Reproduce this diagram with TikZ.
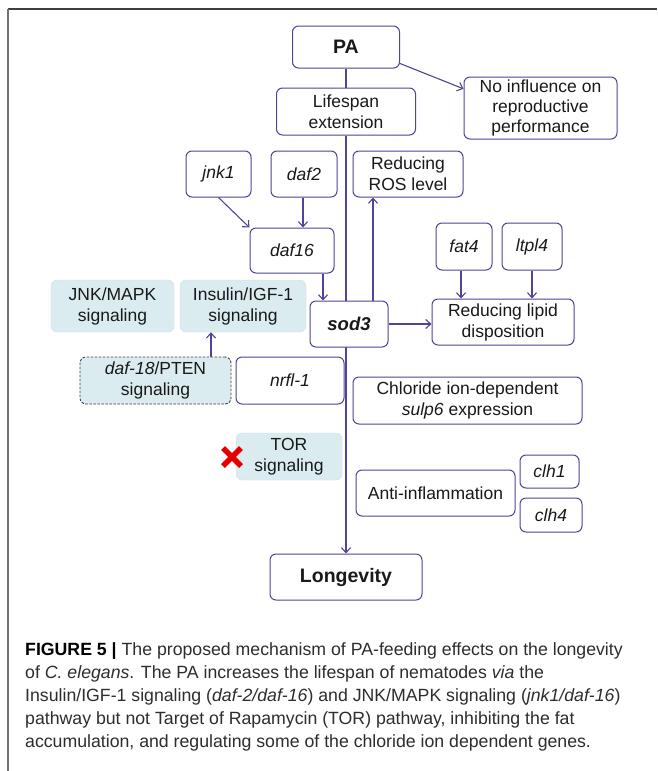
\documentclass[tikz,border=0pt]{standalone}
\usepackage{fontspec}
\setmainfont{Liberation Sans}
\usetikzlibrary{arrows.meta,calc}
\definecolor{bord}{RGB}{78,68,152}
\definecolor{lblue}{RGB}{218,236,240}
\definecolor{txt}{RGB}{25,25,25}
\definecolor{captxt}{RGB}{45,45,45}
\begin{document}
\begin{tikzpicture}[x=1pt,y=-1pt,
  box/.style={draw=bord, line width=1pt, rounded corners=6pt, fill=white, align=center,
    text=txt, inner sep=0pt, font=\fontsize{17.5}{21}\selectfont},
  sig/.style={draw=lblue!90!gray, line width=0.4pt, rounded corners=6pt, fill=lblue, align=center,
    text=txt, inner sep=0pt, font=\fontsize{17.5}{21}\selectfont},
  bigb/.style={font=\fontsize{19.5}{23}\selectfont\bfseries},
  ln/.style={draw=bord, line width=1.1pt},
  arr/.style={ln, -{Straight Barb[length=5pt,width=9pt]}},
  capline/.style={anchor=west, inner sep=0pt, text=captxt, font=\fontsize{17.7}{21}\selectfont}
]
\useasboundingbox (0,0) rectangle (657,771);
\fill[white] (0,0) rectangle (657,771);
% frame
\draw[black!75, line width=2pt] (8,9) -- (657,9);
\draw[black!55, line width=1.2pt] (8,9) -- (8,771);

% nodes
\node[box, bigb, minimum width=107pt, minimum height=42pt] (PA) at (346,47) {PA};
\node[box, minimum width=139pt, minimum height=47pt] (Life) at (346,111.5) {Lifespan\\extension};
\node[box, minimum width=153pt, minimum height=62pt, font=\fontsize{17.5}{20}\selectfont] (NoInf) at (540.5,108) {No influence on\\reproductive\\performance};
\node[box, minimum width=65pt, minimum height=46pt] (jnk1) at (218.5,174) {\itshape jnk1};
\node[box, minimum width=66pt, minimum height=46pt] (daf2) at (304,174) {\itshape daf2};
\node[box, minimum width=110pt, minimum height=46pt] (ROS) at (408,174) {Reducing\\ROS level};
\node[box, minimum width=84pt, minimum height=45pt] (daf16) at (292,250.5) {\itshape daf16};
\node[box, minimum width=56pt, minimum height=47pt] (fat4) at (464,246.5) {\itshape fat4};
\node[box, minimum width=60pt, minimum height=47pt] (ltpl4) at (532,246.5) {\itshape ltpl4};
\node[sig, minimum width=123pt, minimum height=52pt] (JNK) at (112.5,306) {JNK/MAPK\\signaling};
\node[sig, minimum width=126pt, minimum height=52pt] (Ins) at (243,306) {Insulin/IGF-1\\signaling};
\node[box, minimum width=142pt, minimum height=46pt] (lipid) at (503,322) {Reducing lipid\\disposition};
\node[sig, draw=black!75, dashed, dash pattern=on 2.5pt off 1.5pt, line width=0.9pt, minimum width=151pt, minimum height=47pt] (daf18) at (155.5,380.5) {\itshape daf-18\upshape/PTEN\\signaling};
\node[box, minimum width=108pt, minimum height=47pt] (nrfl) at (290,380.5) {\itshape nrfl-1};
\node[box, minimum width=229pt, minimum height=47pt] (chl) at (467.5,400.5) {Chloride ion-dependent\\\textit{sulp6} expression};
\node[sig, minimum width=106pt, minimum height=47pt] (TOR) at (289,456.5) {TOR\\signaling};
\node[box, minimum width=159pt, minimum height=46pt] (anti) at (435.5,493) {Anti-inflammation};
\node[box, minimum width=59pt, minimum height=33pt] (clh1) at (549.5,471.5) {\itshape clh1};
\node[box, minimum width=62pt, minimum height=34pt] (clh4) at (551,515) {\itshape clh4};
\node[box, bigb, minimum width=152pt, minimum height=46pt] (Long) at (346,577) {Longevity};

% main axis
\draw[ln] (PA.south) -- (PA.south |- Life.north);
\draw[arr] (Life.south) -- (Life.south |- Long.north);

\node[box, minimum width=78pt, minimum height=46pt, font=\fontsize{18.5}{22}\selectfont\bfseries\itshape] (sod3) at (349,324) {sod3};

% connectors
\coordinate (xd2) at (303,0);
\coordinate (xd16) at (323,0);
\coordinate (xros) at (373,0);
\coordinate (xfat) at (461,0);
\coordinate (xltp) at (532,0);
\coordinate (xd18) at (211,0);
\draw[arr] (PA.-17) -- (NoInf.166);
\draw[arr] (jnk1.south) -- (daf16.north west);
\draw[arr] (daf2.south -| xd2) -- (daf16.north -| xd2);
\draw[arr] (daf16.south -| xd16) -- (sod3.north -| xd16);
\draw[arr] (sod3.north -| xros) -- (ROS.south -| xros);
\draw[arr] (sod3.east) -- (sod3.east -| lipid.west);
\draw[arr] (fat4.south -| xfat) -- (lipid.north -| xfat);
\draw[arr] (ltpl4.south -| xltp) -- (lipid.north -| xltp);
\draw[arr] (daf18.north -| xd18) -- (Ins.south -| xd18);

% red cross
\draw[red!90!black, line width=5.5pt] (223,448) -- (241,466) (223,466) -- (241,448);

% caption
\node[capline] (c1) at (25,651) {\textbf{\color{black}FIGURE 5 |} The proposed mechanism of PA-feeding effects on the longevity};
\node[capline] (c2) at (25,674) {of \textit{C. elegans}. The PA increases the lifespan of nematodes \textit{via} the};
\node[capline] (c3) at (25,697) {Insulin/IGF-1 signaling (\textit{daf-2/daf-16}) and JNK/MAPK signaling (\textit{jnk1/daf-16})};
\node[capline] (c4) at (25,720) {pathway but not Target of Rapamycin (TOR) pathway, inhibiting the fat};
\node[capline] (c5) at (25,743) {accumulation, and regulating some of the chloride ion dependent genes.};
\end{tikzpicture}
\end{document}
